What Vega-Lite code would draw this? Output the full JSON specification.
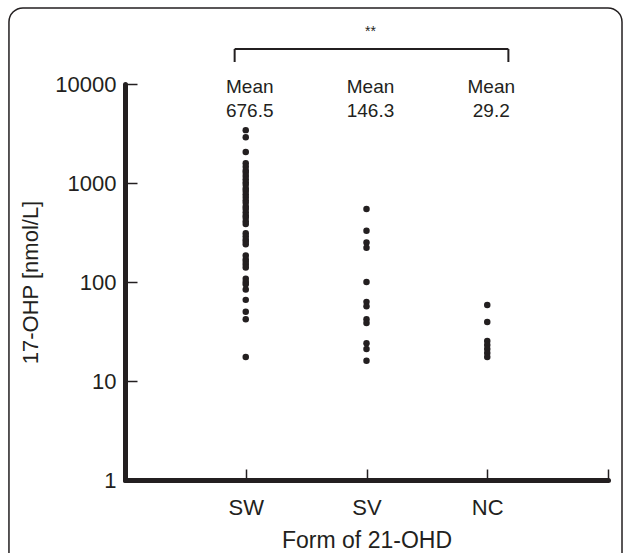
{
  "$schema": "https://vega.github.io/schema/vega-lite/v6.json",
  "autosize": {"type": "none"},
  "width": 483,
  "height": 396,
  "padding": {"left": 125, "top": 84, "right": 22, "bottom": 73},
  "background": "white",
  "config": {
    "view": {"stroke": null},
    "font": "Liberation Sans",
    "axis": {
      "grid": false,
      "domainColor": "#231f20",
      "domainWidth": 5,
      "domainCap": "round",
      "tickColor": "#231f20",
      "tickWidth": 1.5,
      "labelColor": "#231f20",
      "titleColor": "#231f20",
      "labelFont": "Liberation Sans",
      "titleFont": "Liberation Sans",
      "labelFontSize": 22,
      "titleFontSize": 22,
      "titleFontWeight": "normal"
    }
  },
  "datasets": {
    "points": [
      {"form": "SW", "ohp": 3420}, {"form": "SW", "ohp": 2900}, {"form": "SW", "ohp": 2060},
      {"form": "SW", "ohp": 1580}, {"form": "SW", "ohp": 1460}, {"form": "SW", "ohp": 1340},
      {"form": "SW", "ohp": 1270}, {"form": "SW", "ohp": 1180}, {"form": "SW", "ohp": 1090},
      {"form": "SW", "ohp": 1020}, {"form": "SW", "ohp": 960}, {"form": "SW", "ohp": 880},
      {"form": "SW", "ohp": 830}, {"form": "SW", "ohp": 770}, {"form": "SW", "ohp": 720},
      {"form": "SW", "ohp": 670}, {"form": "SW", "ohp": 630}, {"form": "SW", "ohp": 580},
      {"form": "SW", "ohp": 545}, {"form": "SW", "ohp": 505}, {"form": "SW", "ohp": 470},
      {"form": "SW", "ohp": 445}, {"form": "SW", "ohp": 410}, {"form": "SW", "ohp": 385},
      {"form": "SW", "ohp": 310}, {"form": "SW", "ohp": 290}, {"form": "SW", "ohp": 268},
      {"form": "SW", "ohp": 255}, {"form": "SW", "ohp": 240}, {"form": "SW", "ohp": 185},
      {"form": "SW", "ohp": 170}, {"form": "SW", "ohp": 160}, {"form": "SW", "ohp": 150},
      {"form": "SW", "ohp": 140}, {"form": "SW", "ohp": 108}, {"form": "SW", "ohp": 100},
      {"form": "SW", "ohp": 95}, {"form": "SW", "ohp": 84}, {"form": "SW", "ohp": 66},
      {"form": "SW", "ohp": 50}, {"form": "SW", "ohp": 42}, {"form": "SW", "ohp": 17.5},
      {"form": "SV", "ohp": 545}, {"form": "SV", "ohp": 330}, {"form": "SV", "ohp": 250},
      {"form": "SV", "ohp": 222}, {"form": "SV", "ohp": 100}, {"form": "SV", "ohp": 63},
      {"form": "SV", "ohp": 57}, {"form": "SV", "ohp": 42}, {"form": "SV", "ohp": 38.5},
      {"form": "SV", "ohp": 24}, {"form": "SV", "ohp": 21}, {"form": "SV", "ohp": 16},
      {"form": "NC", "ohp": 58.6}, {"form": "NC", "ohp": 39.5}, {"form": "NC", "ohp": 25.4},
      {"form": "NC", "ohp": 23.1}, {"form": "NC", "ohp": 21}, {"form": "NC", "ohp": 19.2},
      {"form": "NC", "ohp": 17.5}
    ],
    "means": [
      {"form": "SW", "caption": "Mean", "mean": "676.5"},
      {"form": "SV", "caption": "Mean", "mean": "146.3"},
      {"form": "NC", "caption": "Mean", "mean": "29.2"}
    ],
    "one": [{}]
  },
  "resolve": {"scale": {"x": "independent"}},
  "layer": [
    {
      "data": {"name": "one"},
      "mark": {"type": "rect", "filled": false, "stroke": "#231f20", "strokeWidth": 1.5, "cornerRadius": 14, "clip": false},
      "encoding": {
        "x": {"datum": -0.961, "type": "quantitative", "scale": {"domain": [0, 4], "nice": false, "zero": false}, "axis": null},
        "x2": {"datum": 4.116},
        "y": {"datum": 58600, "type": "quantitative", "scale": {"type": "log", "domain": [1, 10000], "nice": false}},
        "y2": {"datum": 0.12}
      }
    },
    {
      "data": {"name": "one"},
      "mark": {"type": "rule", "stroke": "#231f20", "strokeWidth": 2, "clip": false},
      "encoding": {
        "x": {"datum": 0.908, "type": "quantitative", "scale": {"domain": [0, 4], "nice": false, "zero": false}, "axis": null},
        "x2": {"datum": 3.175},
        "y": {"datum": 22570, "type": "quantitative", "scale": {"type": "log", "domain": [1, 10000], "nice": false}}
      }
    },
    {
      "data": {"name": "one"},
      "mark": {"type": "rule", "stroke": "#231f20", "strokeWidth": 2, "clip": false},
      "encoding": {
        "x": {"datum": 0.908, "type": "quantitative", "scale": {"domain": [0, 4], "nice": false, "zero": false}, "axis": null},
        "y": {"datum": 22570, "type": "quantitative", "scale": {"type": "log", "domain": [1, 10000], "nice": false}},
        "y2": {"datum": 16680}
      }
    },
    {
      "data": {"name": "one"},
      "mark": {"type": "rule", "stroke": "#231f20", "strokeWidth": 2, "clip": false},
      "encoding": {
        "x": {"datum": 3.175, "type": "quantitative", "scale": {"domain": [0, 4], "nice": false, "zero": false}, "axis": null},
        "y": {"datum": 22570, "type": "quantitative", "scale": {"type": "log", "domain": [1, 10000], "nice": false}},
        "y2": {"datum": 16680}
      }
    },
    {
      "data": {"name": "one"},
      "mark": {"type": "text", "text": "**", "fontSize": 14, "color": "#231f20", "baseline": "middle", "align": "center", "clip": false},
      "encoding": {
        "x": {"datum": 2.033, "type": "quantitative", "scale": {"domain": [0, 4], "nice": false, "zero": false}, "axis": null},
        "y": {"datum": 33500, "type": "quantitative", "scale": {"type": "log", "domain": [1, 10000], "nice": false}}
      }
    },
    {
      "data": {"name": "points"},
      "mark": {"type": "circle", "size": 42, "opacity": 1, "color": "#231f20"},
      "encoding": {
        "x": {
          "field": "form", "type": "nominal",
          "scale": {"type": "point", "domain": ["", "SW", "SV", "NC", " "], "padding": 0},
          "axis": {"title": "Form of 21-OHD", "titleFontSize": 23, "labelAngle": 0, "tickSize": -11, "labelPadding": 28, "titlePadding": 11}
        },
        "y": {
          "field": "ohp", "type": "quantitative",
          "scale": {"type": "log", "domain": [1, 10000], "nice": false},
          "axis": {"title": "17-OHP [nmol/L]", "values": [1, 10, 100, 1000, 10000], "format": "d", "tickSize": -12, "labelPadding": 21, "titlePadding": 12}
        }
      }
    },
    {
      "data": {"name": "means"},
      "mark": {"type": "text", "fontSize": 19, "color": "#231f20", "baseline": "middle", "align": "center", "dx": 4, "clip": false},
      "encoding": {
        "x": {"field": "form", "type": "nominal", "scale": {"type": "point", "domain": ["", "SW", "SV", "NC", " "], "padding": 0}, "axis": null},
        "y": {"datum": 9327, "type": "quantitative", "scale": {"type": "log", "domain": [1, 10000], "nice": false}},
        "text": {"field": "caption"}
      }
    },
    {
      "data": {"name": "means"},
      "mark": {"type": "text", "fontSize": 19, "color": "#231f20", "baseline": "middle", "align": "center", "dx": 4, "clip": false},
      "encoding": {
        "x": {"field": "form", "type": "nominal", "scale": {"type": "point", "domain": ["", "SW", "SV", "NC", " "], "padding": 0}, "axis": null},
        "y": {"datum": 5336, "type": "quantitative", "scale": {"type": "log", "domain": [1, 10000], "nice": false}},
        "text": {"field": "mean"}
      }
    }
  ]
}
